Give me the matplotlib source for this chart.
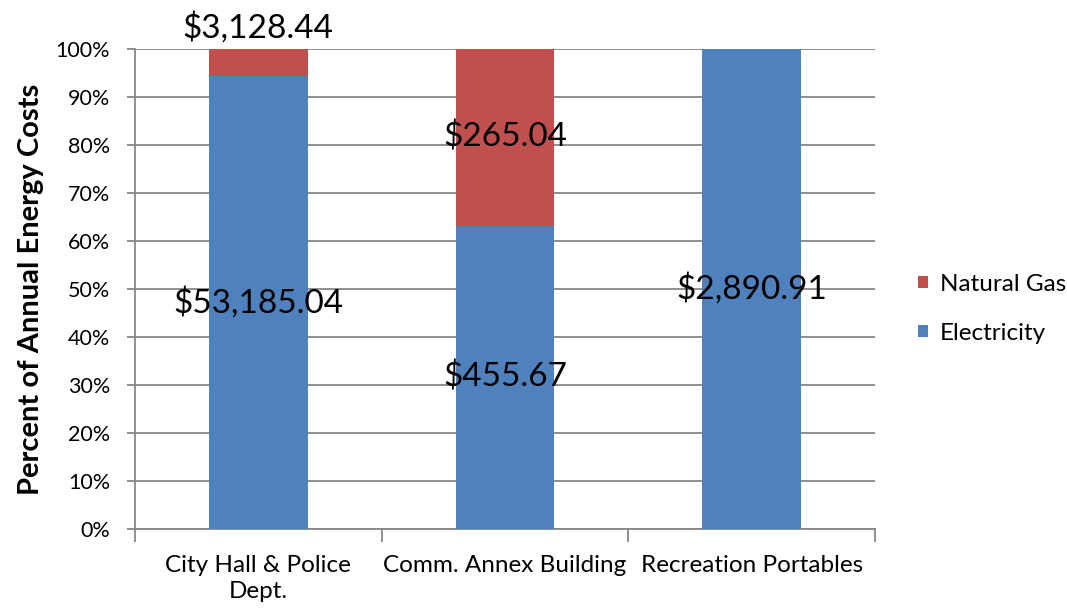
import numpy as np
import matplotlib.pyplot as plt
from matplotlib.ticker import PercentFormatter, FixedLocator

plt.rcParams['font.family'] = ['Lato', 'DejaVu Sans']

# Data (annual energy costs in dollars)
buildings = ['City Hall & Police\nDept.', 'Comm. Annex Building', 'Recreation Portables']
electricity = [53185.04, 455.67, 2890.91]
natural_gas = [3128.44, 265.04, 0.0]

elec_color = '#4F81BD'
gas_color = '#C0504D'
grid_color = '#878787'

elec = np.array(electricity)
gas = np.array(natural_gas)
total = elec + gas
elec_pct = elec / total * 100
gas_pct = gas / total * 100

fig = plt.figure(figsize=(10.67, 6.09), dpi=100)
ax = fig.add_axes([0.1265, 0.1314, 0.6935, 0.7881])

x = np.arange(len(buildings))
b_elec = ax.bar(x, elec_pct, width=0.4, color=elec_color, zorder=3)
b_gas = ax.bar(x, gas_pct, width=0.4, bottom=elec_pct, color=gas_color, zorder=3)

# data labels
for i in range(len(x)):
    ax.text(x[i], elec_pct[i] / 2, '${:,.2f}'.format(elec[i]),
            ha='center', va='center', fontsize=24, zorder=4)
    if gas[i] > 0:
        if gas_pct[i] < 10:
            ax.annotate('${:,.2f}'.format(gas[i]), (x[i], 100), xytext=(0, 4),
                        textcoords='offset points', ha='center', va='bottom',
                        fontsize=24, zorder=4, annotation_clip=False)
        else:
            ax.text(x[i], elec_pct[i] + gas_pct[i] / 2, '${:,.2f}'.format(gas[i]),
                    ha='center', va='center', fontsize=24, zorder=4)

ax.set_xlim(-0.5, len(x) - 0.5)
ax.set_ylim(0, 100)
ax.set_yticks(np.arange(0, 101, 10))
ax.yaxis.set_major_formatter(PercentFormatter(decimals=0))
ax.grid(axis='y', color=grid_color, linewidth=1.3, zorder=0)

ax.set_xticks(x)
ax.set_xticklabels(buildings, fontsize=17.5, linespacing=1.3)
ax.xaxis.set_minor_locator(FixedLocator(np.arange(-0.5, len(x), 1.0)))
ax.tick_params(axis='x', which='major', length=0, pad=19)
ax.tick_params(axis='x', which='minor', length=9, width=1.3, color=grid_color)
ax.tick_params(axis='y', length=6, width=1.3, color=grid_color, labelsize=15.5, pad=12)

for side in ['top', 'right']:
    ax.spines[side].set_visible(False)
for side in ['left', 'bottom']:
    ax.spines[side].set_color(grid_color)
    ax.spines[side].set_linewidth(1.3)

ax.set_ylabel('Percent of Annual Energy Costs', fontsize=21, fontweight='bold', labelpad=8)

fig.legend([b_gas, b_elec], ['Natural Gas', 'Electricity'], loc='center left',
           bbox_to_anchor=(0.8605, 0.4926), frameon=False, fontsize=17.5,
           handlelength=0.4, handleheight=0.4, handletextpad=0.5, labelspacing=1.15,
           borderpad=0, borderaxespad=0)

fig.savefig('out.png', dpi=100)
